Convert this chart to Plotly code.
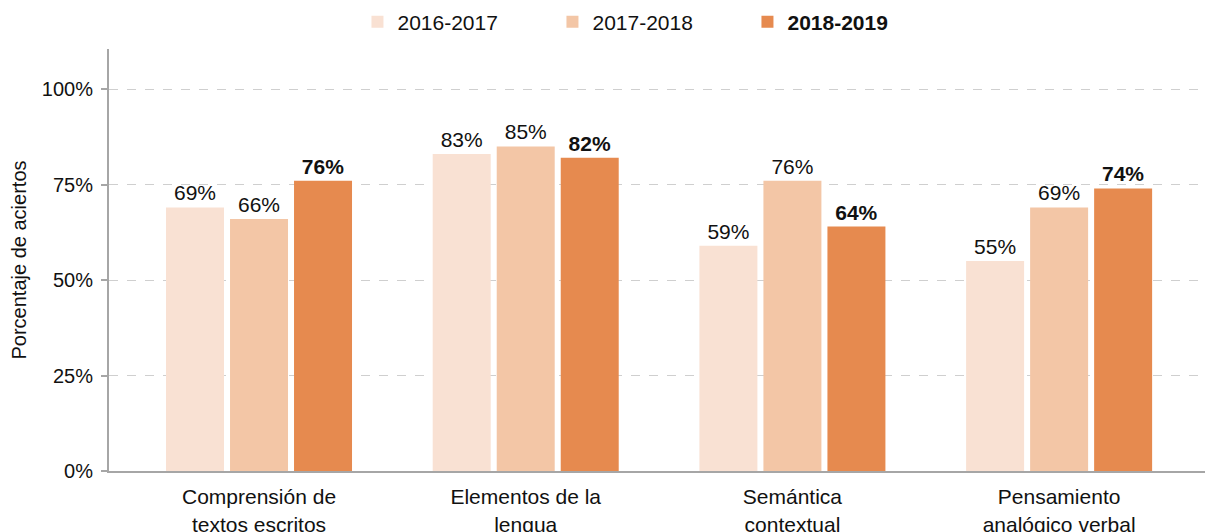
import plotly.graph_objects as go

categories = ["Comprensión de<br>textos escritos", "Elementos de la<br>lengua",
              "Semántica<br>contextual", "Pensamiento<br>analógico verbal"]
years = ["2016-2017", "2017-2018", "2018-2019"]
v_2016_2017 = [69, 83, 59, 55]
v_2017_2018 = [66, 85, 76, 69]
v_2018_2019 = [76, 82, 64, 74]
y_ticks = [0, 25, 50, 75, 100]
y_tick_labels = ["0%", "25%", "50%", "75%", "100%"]

colors = ["#F9E1D3", "#F3C6A6", "#E68A4F"]
font = "Liberation Sans, Arial, sans-serif"

fig = go.Figure()
series = [v_2016_2017, v_2017_2018, v_2018_2019]
for i, (name, vals) in enumerate(zip(years, series)):
    last = i == len(years) - 1
    fig.add_trace(go.Bar(
        x=categories, y=vals,
        name=f"<b>{name}</b>" if last else name,
        marker=dict(color=colors[i], line=dict(width=0)),
        text=[f"<b>{v}%</b>" if last else f"{v}%" for v in vals],
        textposition="outside",
        textfont=dict(size=21, color="#111", family=font),
        cliponaxis=False,
        hoverinfo="skip",
    ))

# the page puts the figure 8px in from the top-left corner
fig.update_layout(
    width=1205, height=524,
    margin=dict(l=101, r=0, t=41, b=61),
    paper_bgcolor="white", plot_bgcolor="white",
    barmode="group", bargap=0.28, bargroupgap=0.094,
    font=dict(family=font, size=20, color="#111"),
    showlegend=True,
    legend=dict(orientation="h", x=0.49, xanchor="center",
                yref="container", y=0.973, yanchor="middle",
                font=dict(size=21), entrywidth=150, itemclick=False),
    xaxis=dict(range=[-0.5625, 3.577], showline=True, linecolor="#a6a6a6", linewidth=2,
               ticks="", tickfont=dict(size=21), ticklabelstandoff=6, showgrid=False,
               automargin=False),
    yaxis=dict(range=[0, 110.5], tickvals=y_ticks, ticktext=y_tick_labels,
               showline=True, linecolor="#a6a6a6", linewidth=2,
               ticks="outside", ticklen=6, tickwidth=2, tickcolor="#a6a6a6",
               ticklabelstandoff=4, automargin=False,
               showgrid=True, gridcolor="#cfcfcf", griddash="dash", gridwidth=1,
               zeroline=False, tickfont=dict(size=20),
               title=dict(text="Porcentaje de aciertos", font=dict(size=20), standoff=16)),
)

fig.write_html("out.html")
